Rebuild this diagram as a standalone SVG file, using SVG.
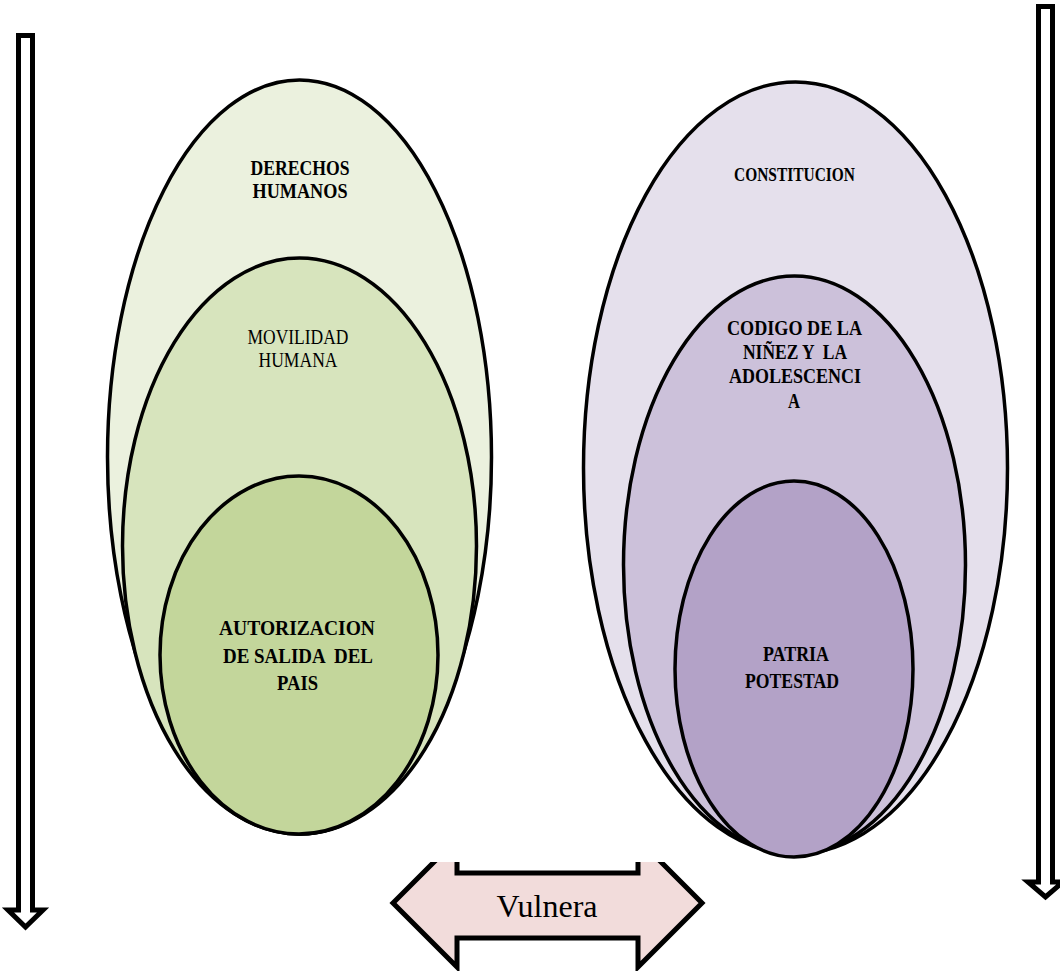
<svg xmlns="http://www.w3.org/2000/svg" width="1060" height="971" viewBox="0 0 1060 971">
<style>
.e{stroke:#000;stroke-width:3.5}
.t{font-family:"Liberation Serif","Times New Roman",serif;font-size:21px;fill:#000;text-anchor:middle;white-space:pre}
.b{font-weight:bold}
.arr{fill:#fff;stroke:#000;stroke-width:5;stroke-linejoin:miter}
</style>
<defs>
<clipPath id="vc"><rect x="370" y="862" width="360" height="109"/></clipPath>
</defs>
<g id="left-arrow"><polygon class="arr" points="18.5,35.5 32.5,35.5 32.5,910 43,910 25.5,927 8,910 18.5,910"/></g>
<g id="right-arrow"><polygon class="arr" points="1038.5,6.5 1052.5,6.5 1052.5,882 1063,882 1045.5,897 1028,882 1038.5,882"/></g>
<g id="derechos-humanos">
<ellipse class="e" cx="299.5" cy="457" rx="192" ry="377" fill="#ebf1de"/>
<text class="t b" x="300" y="175" textLength="99" lengthAdjust="spacingAndGlyphs">DERECHOS</text>
<text class="t b" x="300" y="198" textLength="95" lengthAdjust="spacingAndGlyphs">HUMANOS</text>
</g>
<g id="movilidad-humana">
<ellipse class="e" cx="299.5" cy="546" rx="177" ry="288" fill="#d7e4bd"/>
<text class="t" x="298" y="344" textLength="101" lengthAdjust="spacingAndGlyphs">MOVILIDAD</text>
<text class="t" x="298" y="367" textLength="79" lengthAdjust="spacingAndGlyphs">HUMANA</text>
</g>
<g id="autorizacion">
<ellipse class="e" cx="299" cy="655" rx="139" ry="179" fill="#c3d69b"/>
<text class="t b" x="297" y="635" textLength="156" lengthAdjust="spacingAndGlyphs">AUTORIZACION</text>
<text class="t b" x="298" y="663" textLength="150" lengthAdjust="spacingAndGlyphs" xml:space="preserve">DE SALIDA  DEL</text>
<text class="t b" x="297.5" y="690" textLength="41" lengthAdjust="spacingAndGlyphs">PAIS</text>
</g>
<g id="constitucion">
<ellipse class="e" cx="795.5" cy="468" rx="212" ry="386" fill="#e5e0ec"/>
<text class="t b" x="794.5" y="181" textLength="121" lengthAdjust="spacingAndGlyphs" style="font-size:19px">CONSTITUCION</text>
</g>
<g id="codigo">
<ellipse class="e" cx="794.5" cy="565" rx="171" ry="289" fill="#ccc1da"/>
<text class="t b" x="794.5" y="335" textLength="135" lengthAdjust="spacingAndGlyphs">CODIGO DE LA</text>
<text class="t b" x="795" y="359" textLength="104" lengthAdjust="spacingAndGlyphs" xml:space="preserve">NIÑEZ Y  LA</text>
<text class="t b" x="795" y="383" textLength="132" lengthAdjust="spacingAndGlyphs">ADOLESCENCI</text>
<text class="t b" x="794" y="408" textLength="12" lengthAdjust="spacingAndGlyphs">A</text>
</g>
<g id="patria-potestad">
<ellipse class="e" cx="794" cy="669" rx="119" ry="188" fill="#b3a2c7"/>
<text class="t b" x="796" y="661" textLength="66" lengthAdjust="spacingAndGlyphs">PATRIA</text>
<text class="t b" x="792" y="688" textLength="94" lengthAdjust="spacingAndGlyphs">POTESTAD</text>
</g>
<g id="vulnera">
<path clip-path="url(#vc)" d="M393,903 L457,839 L457,873 L638,873 L638,839 L702,903 L638,967 L638,938 L457,938 L457,967 Z" fill="#f2dcdb" stroke="#000" stroke-width="5"/>
<text x="547" y="917" style="font-family:'Liberation Serif','Times New Roman',serif;font-size:32px;text-anchor:middle">Vulnera</text>
</g>
<g id="connectors"></g>
</svg>
